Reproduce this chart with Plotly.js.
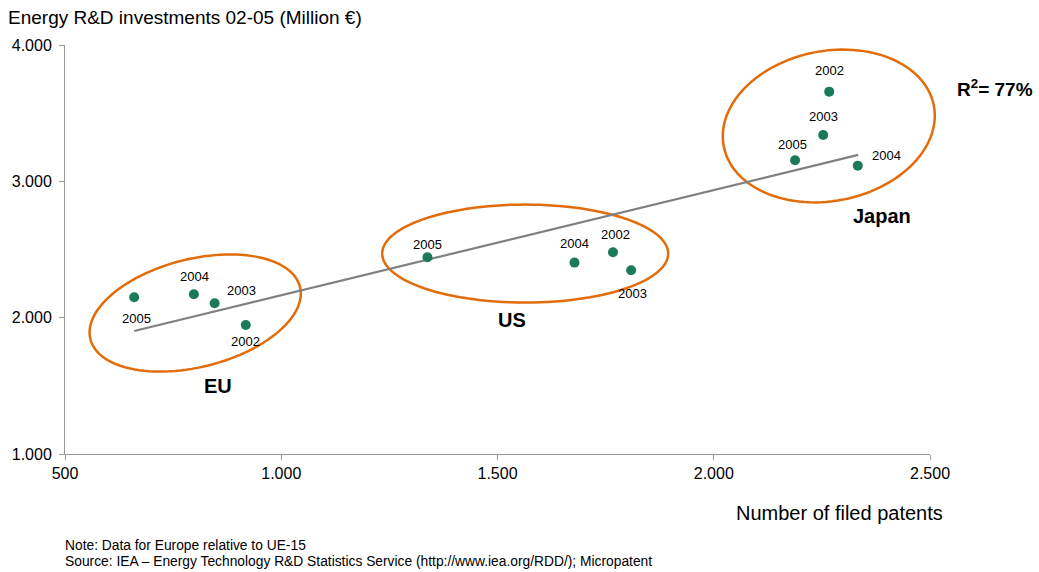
<!DOCTYPE html>
<html>
<head>
<meta charset="utf-8">
<script src="https://cdn.plot.ly/plotly-3.0.1.min.js"></script>
<style>
  html, body { margin: 0; padding: 0; background: #fff; }
  #chart { width: 1039px; height: 572px; }
</style>
</head>
<body>
<div id="chart"></div>
<script>
// ---- Data ----
const years = ["2002", "2003", "2004", "2005"];

const euPatents = [918, 846, 798, 660];
const euInvest  = [1946, 2106, 2172, 2150];

const usPatents = [1767, 1809, 1678, 1338];
const usInvest  = [2480, 2348, 2404, 2443];

const jpPatents = [2267, 2253, 2333, 2188];
const jpInvest  = [3658, 3340, 3115, 3155];

const trendPatents = [660, 2334];
const trendInvest  = [1902, 3194];

const groupNames = ["EU", "US", "Japan"];
const rSquaredLabel = "R<sup>2</sup>= 77%";

const xTickVals = [500, 1000, 1500, 2000, 2500];
const yTickVals = [1000, 2000, 3000, 4000];

// ---- Styling / layout settings ----
const FONT = "Liberation Sans, Arial, sans-serif";
const DOT = "#1a7a5a";
const ORANGE = "#e36c0a";
const AXIS = "#9a9a9a";

const W = 1039, H = 572;
const M = {l: 65, r: 109, t: 45, b: 118};
const plotW = W - M.l - M.r, plotH = H - M.t - M.b;
const xRange = [500, 2500], yRange = [1000, 4000];
const pxX = plotW / (xRange[1] - xRange[0]);
const pxY = plotH / (yRange[1] - yRange[0]);

// label pixel offsets per group, per year (2002..2005): [dx, dy] (dy down positive)
const euLabelOff = [[0, 16], [27, -13], [1, -18], [2, 21]];
const usLabelOff = [[3, -18], [1, 23], [0, -19], [0, -13]];
const jpLabelOff = [[0, -21], [0, -18], [29, -10], [-3, -16]];

// ellipse decorations: centre in data units, semi-axes in px, tilt in degrees
const ellipses = [
  {cx: 801, cy: 2034, a: 108, b: 54, tilt: 14},
  {cx: 1564, cy: 2470, a: 143, b: 49, tilt: 0},
  {cx: 2266, cy: 3406, a: 107, b: 75, tilt: 11}
];

// paper-referenced ellipse path so it is not clipped by the plot area
function ellipseShape(e) {
  const th = e.tilt * Math.PI / 180;
  const cxp = (e.cx - xRange[0]) / (xRange[1] - xRange[0]);
  const cyp = (e.cy - yRange[0]) / (yRange[1] - yRange[0]);
  let d = "";
  for (let i = 0; i <= 120; i++) {
    const t = 2 * Math.PI * i / 120;
    const dx = e.a * Math.cos(t) * Math.cos(th) - e.b * Math.sin(t) * Math.sin(th);
    const dy = e.a * Math.cos(t) * Math.sin(th) + e.b * Math.sin(t) * Math.cos(th);
    const px = cxp + dx / plotW, py = cyp + dy / plotH;
    d += (i === 0 ? "M" : "L") + px.toFixed(5) + "," + py.toFixed(5);
  }
  d += "Z";
  return {type: "path", xref: "paper", yref: "paper", path: d,
          line: {color: ORANGE, width: 2.5}, fillcolor: "rgba(0,0,0,0)", layer: "below"};
}

const traces = [];
traces.push({x: trendPatents, y: trendInvest, type: "scatter", mode: "lines",
             line: {color: "#808080", width: 2.2}, hoverinfo: "skip", showlegend: false});
[[euPatents, euInvest], [usPatents, usInvest], [jpPatents, jpInvest]].forEach(([xs, ys]) => {
  traces.push({x: xs, y: ys, type: "scatter", mode: "markers", text: years,
               marker: {color: DOT, size: 10}, showlegend: false, cliponaxis: false});
});

const annotations = [];
function addLabels(xs, ys, offs) {
  xs.forEach((x, i) => {
    annotations.push({x: x, y: ys[i], xref: "x", yref: "y", text: years[i], showarrow: false,
      xshift: offs[i][0], yshift: -offs[i][1],
      font: {family: FONT, size: 13, color: "#000"}});
  });
}
addLabels(euPatents, euInvest, euLabelOff);
addLabels(usPatents, usInvest, usLabelOff);
addLabels(jpPatents, jpInvest, jpLabelOff);

const groupPos = [[854, 1499], [1533, 1983], [2389, 2746]];
groupNames.forEach((g, i) => {
  annotations.push({x: groupPos[i][0], y: groupPos[i][1], xref: "x", yref: "y", text: "<b>" + g + "</b>",
    showarrow: false, font: {family: FONT, size: 20, color: "#000"}});
});
annotations.push({x: (995 - M.l) / plotW, y: (H - M.b - 88) / plotH, xref: "paper", yref: "paper",
  xanchor: "center", yanchor: "middle", text: "<b>" + rSquaredLabel + "</b>",
  showarrow: false, font: {family: FONT, size: 19, color: "#000"}});

// x-axis title, right-aligned under the axis
annotations.push({x: (945 - M.l) / plotW, y: -(513 - (H - M.b)) / plotH, xref: "paper", yref: "paper",
  xanchor: "right", yanchor: "middle", text: "Number of filed patents", showarrow: false,
  font: {family: FONT, size: 20, color: "#000"}});

// notes
annotations.push({x: (63 - M.l) / plotW, y: -(545 - (H - M.b)) / plotH, xref: "paper", yref: "paper",
  xanchor: "left", yanchor: "middle", text: "Note: Data for Europe relative to UE-15", showarrow: false,
  font: {family: FONT, size: 13.8, color: "#000"}});
annotations.push({x: (63 - M.l) / plotW, y: -(561 - (H - M.b)) / plotH, xref: "paper", yref: "paper",
  xanchor: "left", yanchor: "middle",
  text: "Source: IEA – Energy Technology R&D Statistics Service (http://www.iea.org/RDD/); Micropatent",
  showarrow: false, font: {family: FONT, size: 13.8, color: "#000"}});

const layout = {
  width: W, height: H,
  margin: M,
  paper_bgcolor: "#fff", plot_bgcolor: "#fff",
  separators: ",.",
  font: {family: FONT, color: "#000"},
  title: {text: "Energy R&D investments 02-05 (Million €)", x: 8 / W, xref: "container", xanchor: "left",
          y: 1 - 17 / H, yref: "container", yanchor: "middle",
          font: {family: FONT, size: 19, color: "#000"}},
  xaxis: {range: xRange, tickvals: xTickVals, tickformat: ",d", showline: true, linecolor: AXIS, linewidth: 1,
          ticks: "outside", ticklen: 5, tickcolor: AXIS, showgrid: false, zeroline: false,
          tickfont: {family: FONT, size: 16, color: "#000"}, fixedrange: true},
  yaxis: {range: yRange, tickvals: yTickVals, tickformat: ",d", showline: true, linecolor: AXIS, linewidth: 1,
          ticks: "outside", ticklen: 5, tickcolor: AXIS, showgrid: false, zeroline: false,
          tickfont: {family: FONT, size: 16, color: "#000"}, ticklabelstandoff: 4, fixedrange: true},
  shapes: ellipses.map(ellipseShape),
  annotations: annotations,
  showlegend: false
};

Plotly.newPlot("chart", traces, layout, {displayModeBar: false, staticPlot: true});
</script>
</body>
</html>
